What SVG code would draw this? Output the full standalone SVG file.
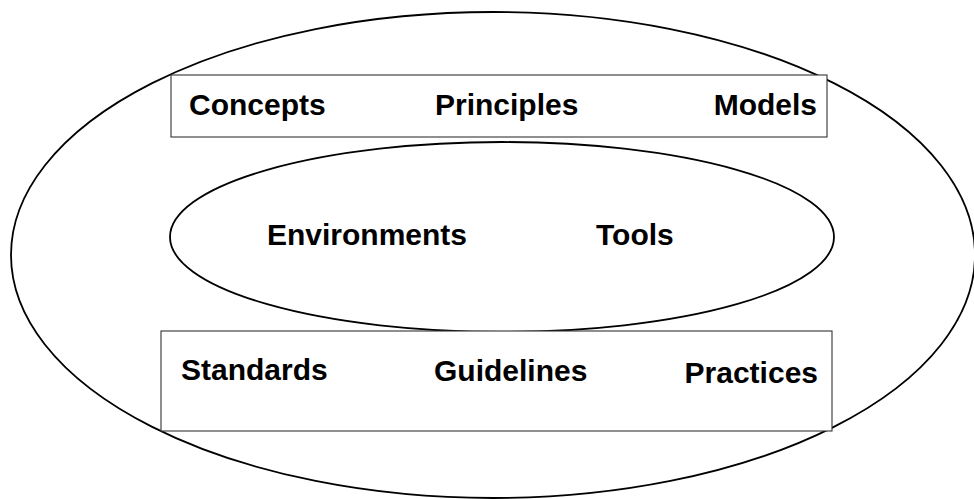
<svg xmlns="http://www.w3.org/2000/svg" width="974" height="499" viewBox="0 0 974 499">
<style>
.ell{fill:none;stroke:#000;stroke-width:1.8}
.box{fill:#fff;stroke:#333;stroke-width:1.1}
text{font-family:"Liberation Sans",Arial,Helvetica,sans-serif;font-weight:bold;font-size:30px;fill:#000}
</style>
<rect width="974" height="499" fill="#fff"/>
<g id="outer"><ellipse class="ell" cx="493" cy="255" rx="482" ry="243"/></g>
<g id="top-box">
<rect class="box" x="171" y="75" width="656" height="62"/>
<text x="189" y="115">Concepts</text>
<text x="435" y="115">Principles</text>
<text x="817" y="115" text-anchor="end">Models</text>
</g>
<g id="inner">
<ellipse class="ell" cx="502" cy="237" rx="332" ry="95"/>
<text x="267" y="245">Environments</text>
<text x="596" y="245">Tools</text>
</g>
<g id="bottom-box">
<rect class="box" x="161" y="331" width="671" height="100"/>
<text x="181" y="380">Standards</text>
<text x="434" y="381">Guidelines</text>
<text x="818" y="383" text-anchor="end">Practices</text>
</g>
<g id="connectors"/>
</svg>
